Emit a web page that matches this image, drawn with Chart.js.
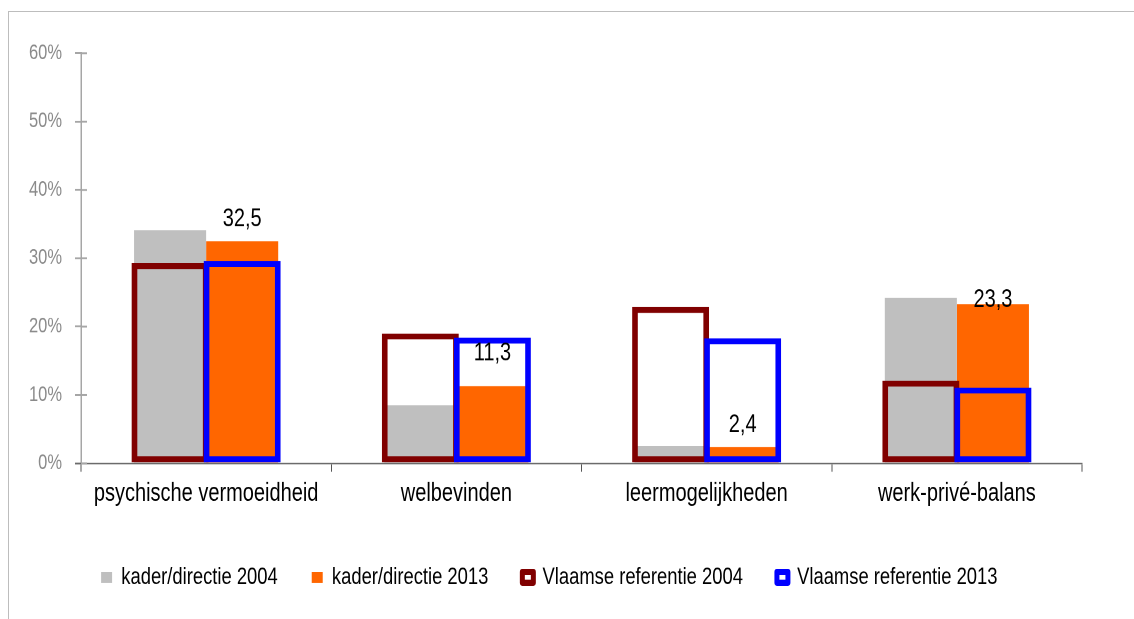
<!DOCTYPE html>
<html><head><meta charset="utf-8">
<style>
html,body{margin:0;padding:0;background:#fff;overflow:hidden;width:1134px;height:619px;}
#frame{position:absolute;left:8px;top:11px;width:1300px;height:800px;border-left:1px solid #bdbdbd;border-top:1px solid #bdbdbd;box-sizing:border-box;}
#wrap{position:absolute;left:0;top:0;width:1134px;height:487px;transform:scaleY(1.27105);transform-origin:0 0;}
</style>
<script src="https://cdn.jsdelivr.net/npm/chart.js@4"></script>
</head><body>
<div id="frame"></div>
<div id="wrap"><canvas id="c"></canvas></div>
<script>
const categories = ['psychische vermoeidheid', 'welbevinden', 'leermogelijkheden', 'werk-privé-balans'];
const seriesLabels = ['kader/directie 2004', 'kader/directie 2013', 'Vlaamse referentie 2004', 'Vlaamse referentie 2013'];
const kader2004 = [34.1, 8.5, 2.5, 24.2];
const kader2013 = [32.5, 11.3, 2.4, 23.3];
const vlaams2004 = [29.3, 19.0, 22.9, 12.1];
const vlaams2013 = [29.6, 18.4, 18.3, 11.1];
const yTicks = [0, 10, 20, 30, 40, 50, 60];

Chart.defaults.font.family = '"Liberation Sans", Arial, sans-serif';

const outlineBorder = {top: 4.7, bottom: 4.7, left: 5.7, right: 5.7};
const CP = 0.576;

const valueLabels = {
  id: 'valueLabels',
  afterDatasetsDraw(chart, args, opts) {
    const meta = chart.getDatasetMeta(1);
    const ctx = chart.ctx;
    ctx.save();
    ctx.font = '20px "Liberation Sans", Arial, sans-serif';
    ctx.fillStyle = '#000';
    ctx.textAlign = 'center';
    ctx.textBaseline = 'middle';
    meta.data.forEach((el, i) => {
      const v = chart.data.datasets[1].data[i];
      ctx.fillText(v.toFixed(1).replace('.', ','), el.x, el.y - opts.offsets[i]);
    });
    ctx.restore();
  }
};

const axisExtras = {
  id: 'axisExtras',
  beforeDatasetsDraw(chart) {
    const ctx = chart.ctx;
    const ca = chart.chartArea;
    const ys = chart.scales.y;
    ctx.save();
    ctx.strokeStyle = '#a6a6a6';
    ctx.lineWidth = 1.5;
    ys.ticks.forEach(t => {
      const p = ys.getPixelForValue(t.value);
      ctx.beginPath();
      ctx.moveTo(ca.left, p);
      ctx.lineTo(ca.left + 6, p);
      ctx.stroke();
    });
    ctx.strokeStyle = '#6b6b6b';
    ctx.lineWidth = 1.2;
    ctx.beginPath();
    ctx.moveTo(ca.left - 6, ca.bottom);
    ctx.lineTo(ca.left, ca.bottom);
    ctx.stroke();
    ctx.restore();
  }
};

new Chart(document.getElementById('c'), {
  type: 'bar',
  data: {
    labels: categories,
    datasets: [
      {label: seriesLabels[0], data: kader2004, backgroundColor: '#bfbfbf', borderWidth: 0,
       stack: 'L', order: 2, barPercentage: 1, categoryPercentage: CP},
      {label: seriesLabels[1], data: kader2013, backgroundColor: '#ff6600', borderWidth: 0,
       stack: 'R', order: 3, barPercentage: 1, categoryPercentage: CP},
      {label: seriesLabels[2], data: vlaams2004, backgroundColor: 'rgba(0,0,0,0)', borderColor: '#800000',
       borderWidth: outlineBorder, borderSkipped: false,
       stack: 'L', order: 1, barPercentage: 1.068, categoryPercentage: CP},
      {label: seriesLabels[3], data: vlaams2013, backgroundColor: 'rgba(0,0,0,0)', borderColor: '#0000ff',
       borderWidth: outlineBorder, borderSkipped: false,
       stack: 'R', order: 0, barPercentage: 1.068, categoryPercentage: CP},
      {label: '', data: [], stack: 'L', order: -1, categoryPercentage: CP}
    ]
  },
  options: {
    responsive: true,
    maintainAspectRatio: false,
    animation: false,
    devicePixelRatio: 2,
    layout: {padding: {left: 16.6, right: 52, top: 41.9, bottom: 13.6}},
    plugins: {
      tooltip: {enabled: false},
      valueLabels: {offsets: [17.5, 25.7, 17.2, 3.2]},
      legend: {
        position: 'bottom',
        labels: {
          boxWidth: 11, boxHeight: 8.5, padding: 34, color: '#000',
          font: {size: 18.4},
          filter: (item) => item.datasetIndex < 4,
          sort: (a, b) => a.datasetIndex - b.datasetIndex,
          generateLabels: (chart) => Chart.defaults.plugins.legend.labels.generateLabels(chart).map(it => {
            it.lineWidth = it.datasetIndex >= 2 ? 5 : 0;
            it.lineJoin = 'round';
            return it;
          })
        }
      }
    },
    scales: {
      x: {
        type: 'category', offset: true,
        grid: {offset: true, drawOnChartArea: false, tickLength: 6.6, color: '#555', lineWidth: 1},
        border: {color: '#6b6b6b', width: 1.2},
        ticks: {color: '#000', font: {size: 20}, padding: 5.5, maxRotation: 0, autoSkip: false},
        afterFit: (s) => { s.height = 46.5; }
      },
      y: {
        min: yTicks[0], max: yTicks[yTicks.length - 1], stacked: false,
        afterBuildTicks: (s) => { s.ticks = yTicks.map(v => ({value: v})); },
        ticks: {color: '#8a8a8a', font: {size: 16.5}, padding: 13, callback: v => v + '%'},
        grid: {drawOnChartArea: false, tickLength: 6, color: '#a6a6a6', lineWidth: 1.5},
        border: {color: '#a6a6a6', width: 1.5},
        afterFit: (s) => { s.width = 64.4; }
      }
    }
  },
  plugins: [valueLabels, axisExtras]
});
</script>
</body></html>
